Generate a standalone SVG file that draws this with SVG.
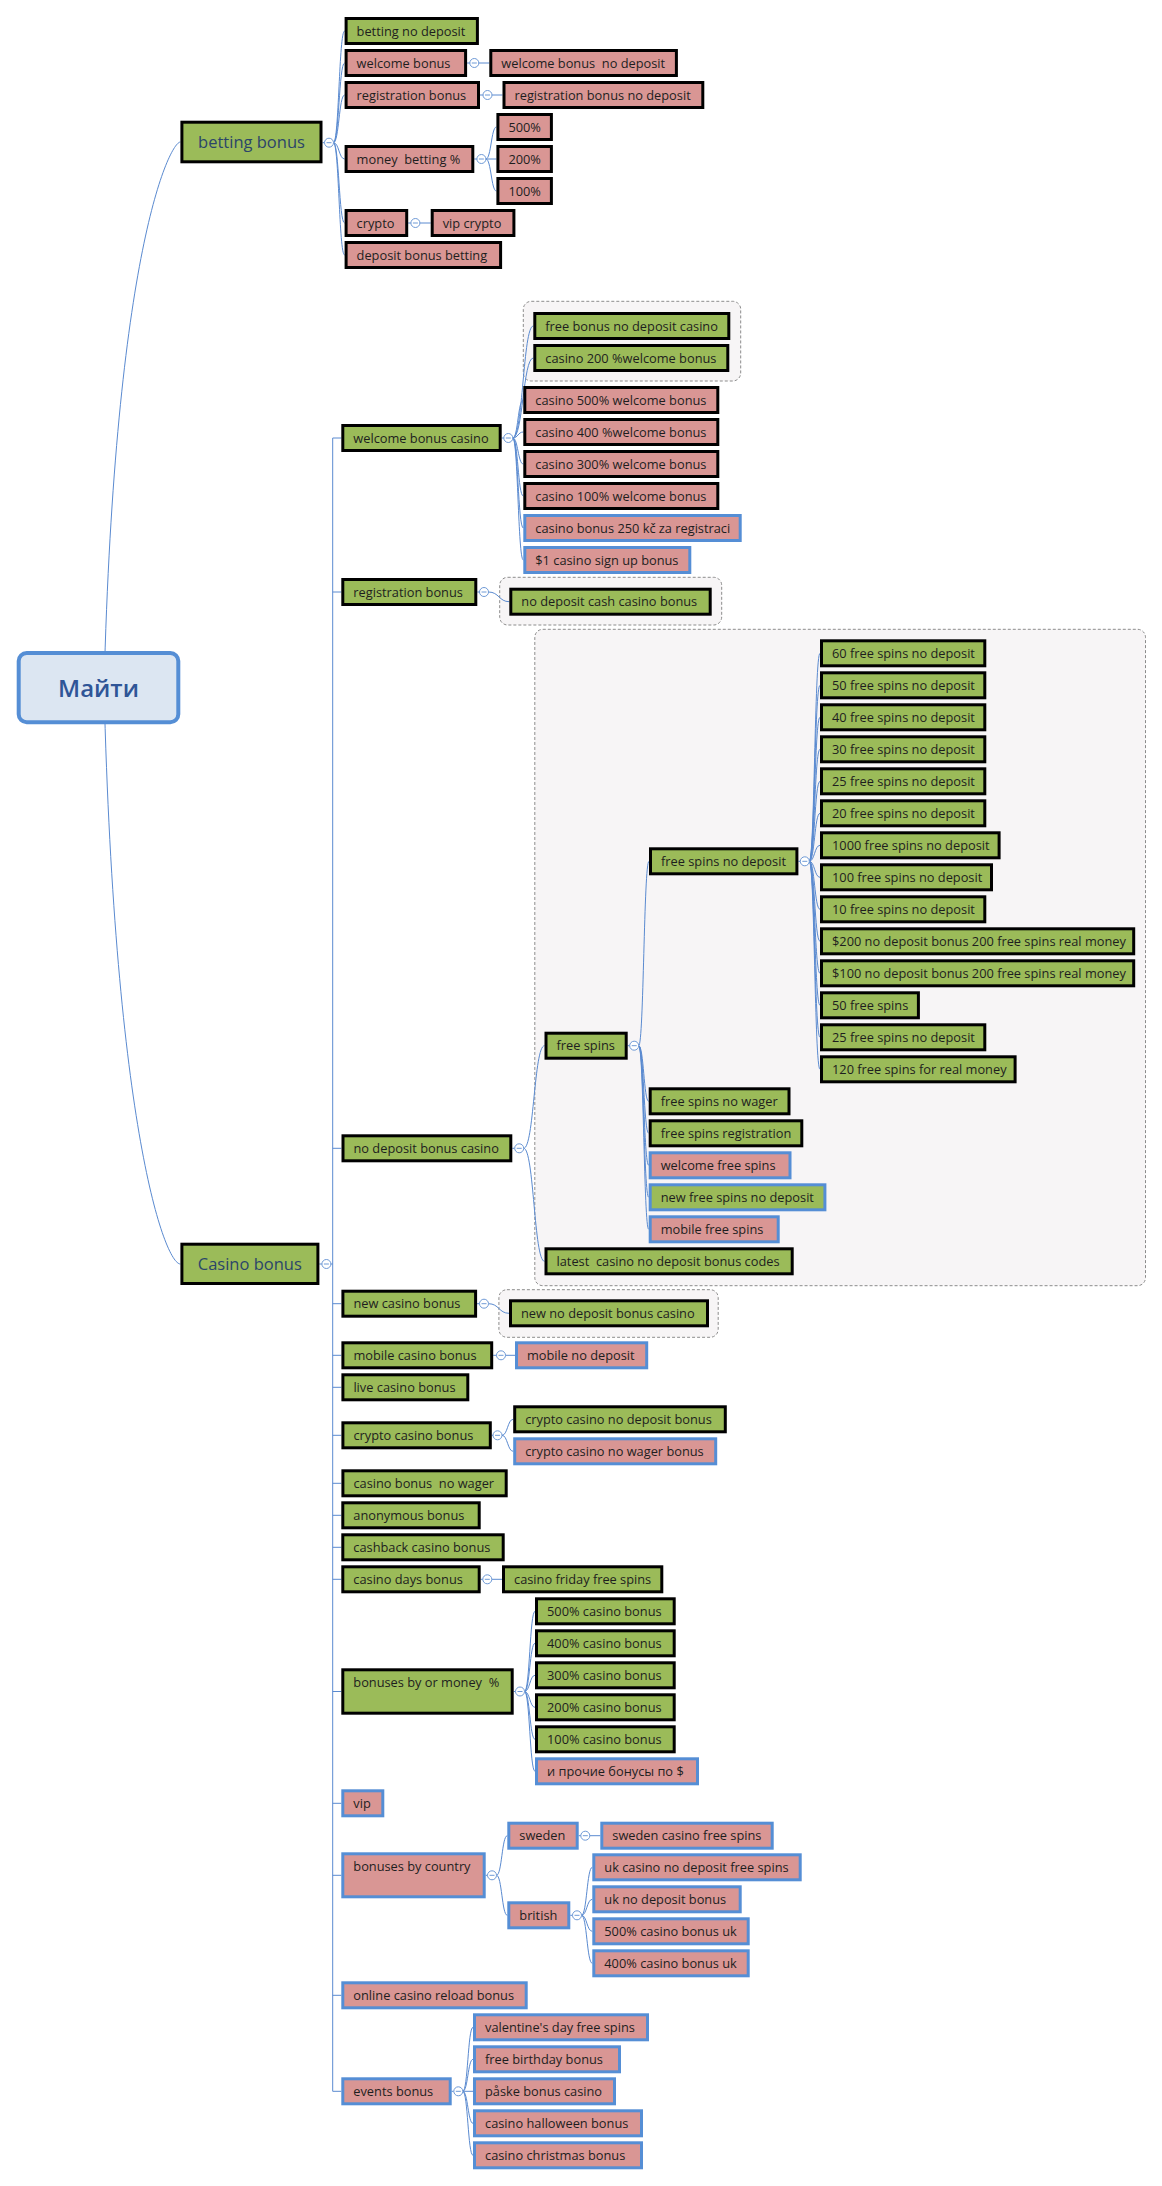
<svg xmlns="http://www.w3.org/2000/svg" width="1162" height="2186" viewBox="0 0 1162 2186">
<style>
text{font-family:"Open Sans","Noto Sans","DejaVu Sans",sans-serif;font-size:12.8px;fill:#1e1e1e;white-space:pre}
.t{font-size:16.5px;fill:#2b4569;text-anchor:middle}
.r{font-size:24px;fill:#2f5597;text-anchor:middle;font-weight:600}
.G{fill:#9bbb59}.P{fill:#d99694}
.K{stroke:#000;stroke-width:3}.B{stroke:#558ed5;stroke-width:3}
.grp{fill:#f7f5f6;stroke:#8c8c8c;stroke-width:1;stroke-dasharray:3,2}
.c path,.c line{fill:none;stroke:#5a8ad0;stroke-width:1}
.m circle{fill:#fff;stroke:#6f9ad6;stroke-width:1}
.m path{stroke:#6f9ad6;stroke-width:1}
</style>
<rect width="1162" height="2186" fill="#fff"/>
<g id="groups">
<rect class="grp" x="523.3" y="301.3" width="217.4" height="79.7" rx="8"/>
<rect class="grp" x="499.7" y="577.3" width="222" height="47.7" rx="8"/>
<rect class="grp" x="534.8" y="629.3" width="610.7" height="656.4" rx="8"/>
<rect class="grp" x="498.9" y="1289.7" width="219.3" height="47.6" rx="8"/>
</g>
<g id="connectors" class="c">
<path d="M104,688 C115,250 170,142 180.4,142"/>
<path d="M104,688 C115,1130 165,1264 180.4,1264"/>
<line x1="322.5" y1="142.7" x2="324.5" y2="142.7"/>
<path d="M333.5,142.7 C339,142.7 339,31 344.6,31"/>
<path d="M333.5,142.7 C339,142.7 339,63 344.6,63"/>
<path d="M333.5,142.7 C339,142.7 339,95 344.6,95"/>
<path d="M333.5,142.7 C339,142.7 339,159 344.6,159"/>
<path d="M333.5,142.7 C339,142.7 339,223 344.6,223"/>
<path d="M333.5,142.7 C339,142.7 339,255 344.6,255"/>
<line x1="467.1" y1="63" x2="489.3" y2="63"/>
<line x1="480" y1="95" x2="502.5" y2="95"/>
<line x1="474.3" y1="159" x2="477" y2="159"/>
<path d="M485.9,159 C491.2,159 491.2,127 496.4,127"/>
<path d="M485.9,159 L496.4,159"/>
<path d="M485.9,159 C491.2,159 491.2,191 496.4,191"/>
<line x1="408.2" y1="223" x2="430.7" y2="223"/>
<line x1="319.3" y1="1264" x2="332.7" y2="1264"/>
<path d="M341.3,438 H332.7 V2091.3 H341.3"/>
<line x1="332.7" y1="592" x2="341.3" y2="592"/>
<line x1="332.7" y1="1148.3" x2="341.3" y2="1148.3"/>
<line x1="332.7" y1="1303.7" x2="341.3" y2="1303.7"/>
<line x1="332.7" y1="1355.3" x2="341.3" y2="1355.3"/>
<line x1="332.7" y1="1387.3" x2="341.3" y2="1387.3"/>
<line x1="332.7" y1="1435.3" x2="341.3" y2="1435.3"/>
<line x1="332.7" y1="1483.3" x2="341.3" y2="1483.3"/>
<line x1="332.7" y1="1515.3" x2="341.3" y2="1515.3"/>
<line x1="332.7" y1="1547.3" x2="341.3" y2="1547.3"/>
<line x1="332.7" y1="1579.3" x2="341.3" y2="1579.3"/>
<line x1="332.7" y1="1691.5" x2="341.3" y2="1691.5"/>
<line x1="332.7" y1="1803.3" x2="341.3" y2="1803.3"/>
<line x1="332.7" y1="1875.3" x2="341.3" y2="1875.3"/>
<line x1="332.7" y1="1995.3" x2="341.3" y2="1995.3"/>
<line x1="501.7" y1="438" x2="504" y2="438"/>
<path d="M512.8,438 C523,438 523,326 533.3,326"/>
<path d="M512.8,438 C523,438 523,358 533.3,358"/>
<path d="M512.8,438 C518,438 518,400 523.3,400"/>
<path d="M512.8,438 C518,438 518,432 523.3,432"/>
<path d="M512.8,438 C518,438 518,464 523.3,464"/>
<path d="M512.8,438 C518,438 518,496 523.3,496"/>
<path d="M512.8,438 C518,438 518,528 523.3,528"/>
<path d="M512.8,438 C518,438 518,560 523.3,560"/>
<line x1="477.3" y1="592" x2="479.5" y2="592"/>
<path d="M488.5,592 C499,592 499,601.7 509.3,601.7"/>
<line x1="512.3" y1="1148.3" x2="514.7" y2="1148.3"/>
<path d="M523.7,1148.3 C534,1148.3 534,1045.7 544.5,1045.7"/>
<path d="M523.7,1148.3 C534,1148.3 534,1261.3 544.5,1261.3"/>
<line x1="627.7" y1="1045.7" x2="629.7" y2="1045.7"/>
<path d="M638.7,1045.7 C643.8,1045.7 643.8,861.3 649,861.3"/>
<path d="M638.7,1045.7 C643.8,1045.7 643.8,1101.3 648.7,1101.3"/>
<path d="M638.7,1045.7 C643.8,1045.7 643.8,1133.3 648.7,1133.3"/>
<path d="M638.7,1045.7 C643.8,1045.7 643.8,1165.3 648.7,1165.3"/>
<path d="M638.7,1045.7 C643.8,1045.7 643.8,1197.3 648.7,1197.3"/>
<path d="M638.7,1045.7 C643.8,1045.7 643.8,1229.3 648.7,1229.3"/>
<line x1="798.4" y1="861.3" x2="800.3" y2="861.3"/>
<path d="M809.3,861.3 C814.6,861.3 814.6,653.3 820,653.3"/>
<path d="M809.3,861.3 C814.6,861.3 814.6,685.3 820,685.3"/>
<path d="M809.3,861.3 C814.6,861.3 814.6,717.3 820,717.3"/>
<path d="M809.3,861.3 C814.6,861.3 814.6,749.3 820,749.3"/>
<path d="M809.3,861.3 C814.6,861.3 814.6,781.3 820,781.3"/>
<path d="M809.3,861.3 C814.6,861.3 814.6,813.3 820,813.3"/>
<path d="M809.3,861.3 C814.6,861.3 814.6,845.3 820,845.3"/>
<path d="M809.3,861.3 C814.6,861.3 814.6,877.3 820,877.3"/>
<path d="M809.3,861.3 C814.6,861.3 814.6,909.3 820,909.3"/>
<path d="M809.3,861.3 C814.6,861.3 814.6,941.3 820,941.3"/>
<path d="M809.3,861.3 C814.6,861.3 814.6,973.3 820,973.3"/>
<path d="M809.3,861.3 C814.6,861.3 814.6,1005.3 820,1005.3"/>
<path d="M809.3,861.3 C814.6,861.3 814.6,1037.3 820,1037.3"/>
<path d="M809.3,861.3 C814.6,861.3 814.6,1069.3 820,1069.3"/>
<line x1="477.1" y1="1303.7" x2="479.5" y2="1303.7"/>
<path d="M488.5,1303.7 C499,1303.7 499,1313.3 509,1313.3"/>
<line x1="493.2" y1="1355.3" x2="515" y2="1355.3"/>
<line x1="491.8" y1="1435.3" x2="493" y2="1435.3"/>
<path d="M502,1435.3 C507.6,1435.3 507.6,1419.3 513.2,1419.3"/>
<path d="M502,1435.3 C507.6,1435.3 507.6,1451.3 513.2,1451.3"/>
<line x1="480.7" y1="1579.3" x2="502" y2="1579.3"/>
<line x1="513.7" y1="1691.5" x2="515.5" y2="1691.5"/>
<path d="M524.5,1691.5 C529.8,1691.5 529.8,1611.3 535,1611.3"/>
<path d="M524.5,1691.5 C529.8,1691.5 529.8,1643.3 535,1643.3"/>
<path d="M524.5,1691.5 C529.8,1691.5 529.8,1675.3 535,1675.3"/>
<path d="M524.5,1691.5 C529.8,1691.5 529.8,1707.3 535,1707.3"/>
<path d="M524.5,1691.5 C529.8,1691.5 529.8,1739.3 535,1739.3"/>
<path d="M524.5,1691.5 C529.8,1691.5 529.8,1771.3 535,1771.3"/>
<line x1="485.7" y1="1875.3" x2="487.5" y2="1875.3"/>
<path d="M496.5,1875.3 C501.9,1875.3 501.9,1835.7 507.3,1835.7"/>
<path d="M496.5,1875.3 C501.9,1875.3 501.9,1915.3 507.3,1915.3"/>
<line x1="578.7" y1="1835.7" x2="600.3" y2="1835.7"/>
<line x1="570.3" y1="1915.3" x2="572.5" y2="1915.3"/>
<path d="M581.5,1915.3 C586.9,1915.3 586.9,1867.3 592.3,1867.3"/>
<path d="M581.5,1915.3 C586.9,1915.3 586.9,1899.3 592.3,1899.3"/>
<path d="M581.5,1915.3 C586.9,1915.3 586.9,1931.3 592.3,1931.3"/>
<path d="M581.5,1915.3 C586.9,1915.3 586.9,1963.3 592.3,1963.3"/>
<line x1="451.7" y1="2091.3" x2="453.8" y2="2091.3"/>
<path d="M462.8,2091.3 C467.9,2091.3 467.9,2027.3 473,2027.3"/>
<path d="M462.8,2091.3 C467.9,2091.3 467.9,2059.3 473,2059.3"/>
<path d="M462.8,2091.3 L473,2091.3"/>
<path d="M462.8,2091.3 C467.9,2091.3 467.9,2123.3 473,2123.3"/>
<path d="M462.8,2091.3 C467.9,2091.3 467.9,2155.3 473,2155.3"/>
</g>
<g id="collapse" class="m">
<circle cx="329" cy="142.7" r="4.5"/><path d="M326.5,142.7h5"/>
<circle cx="474.3" cy="63" r="4.5"/><path d="M471.8,63h5"/>
<circle cx="487.5" cy="95" r="4.5"/><path d="M485,95h5"/>
<circle cx="481.4" cy="159" r="4.5"/><path d="M478.9,159h5"/>
<circle cx="415.4" cy="223" r="4.5"/><path d="M412.9,223h5"/>
<circle cx="326.4" cy="1264" r="4.5"/><path d="M323.9,1264h5"/>
<circle cx="508.3" cy="438" r="4.5"/><path d="M505.8,438h5"/>
<circle cx="484" cy="592" r="4.5"/><path d="M481.5,592h5"/>
<circle cx="519.2" cy="1148.3" r="4.5"/><path d="M516.7,1148.3h5"/>
<circle cx="634.2" cy="1045.7" r="4.5"/><path d="M631.7,1045.7h5"/>
<circle cx="804.8" cy="861.3" r="4.5"/><path d="M802.3,861.3h5"/>
<circle cx="484" cy="1303.7" r="4.5"/><path d="M481.5,1303.7h5"/>
<circle cx="501" cy="1355.3" r="4.5"/><path d="M498.5,1355.3h5"/>
<circle cx="497.5" cy="1435.3" r="4.5"/><path d="M495,1435.3h5"/>
<circle cx="487.3" cy="1579.3" r="4.5"/><path d="M484.8,1579.3h5"/>
<circle cx="520" cy="1691.5" r="4.5"/><path d="M517.5,1691.5h5"/>
<circle cx="492" cy="1875.3" r="4.5"/><path d="M489.5,1875.3h5"/>
<circle cx="585.3" cy="1835.7" r="4.5"/><path d="M582.8,1835.7h5"/>
<circle cx="577" cy="1915.3" r="4.5"/><path d="M574.5,1915.3h5"/>
<circle cx="458.3" cy="2091.3" r="4.5"/><path d="M455.8,2091.3h5"/>
</g>
<g id="root"><rect x="18.7" y="653" width="159.6" height="69.3" rx="8" fill="#dce6f2" stroke="#558ed5" stroke-width="4"/><text class="r" x="98.5" y="697">Майти</text></g>
<g id="betting-bonus"><rect class="G K" x="181.9" y="122.2" width="139.1" height="39.6"/><text class="t" x="251.5" y="148">betting bonus</text></g>
<g id="betting-no-deposit"><rect class="G K" x="346.1" y="18.5" width="131.3" height="25"/><text x="356.6" y="35.5">betting no deposit</text></g>
<g id="welcome-bonus"><rect class="P K" x="346.1" y="50.5" width="119.5" height="25"/><text x="356.6" y="67.5">welcome bonus</text></g>
<g id="welcome-bonus-no-deposit"><rect class="P K" x="490.8" y="50.5" width="185.6" height="25"/><text x="501.3" y="67.5">welcome bonus  no deposit</text></g>
<g id="registration-bonus-b"><rect class="P K" x="346.1" y="82.5" width="132.4" height="25"/><text x="356.6" y="99.5">registration bonus</text></g>
<g id="registration-bonus-no-deposit"><rect class="P K" x="504" y="82.5" width="198.8" height="25"/><text x="514.5" y="99.5">registration bonus no deposit</text></g>
<g id="pct-500"><rect class="P K" x="497.9" y="114.5" width="53.5" height="25"/><text x="508.4" y="131.5">500%</text></g>
<g id="money-betting"><rect class="P K" x="346.1" y="146.5" width="126.7" height="25"/><text x="356.6" y="163.5">money  betting %</text></g>
<g id="pct-200"><rect class="P K" x="497.9" y="146.5" width="53.5" height="25"/><text x="508.4" y="163.5">200%</text></g>
<g id="pct-100"><rect class="P K" x="497.9" y="178.5" width="53.5" height="25"/><text x="508.4" y="195.5">100%</text></g>
<g id="crypto"><rect class="P K" x="346.1" y="210.5" width="60.6" height="25"/><text x="356.6" y="227.5">crypto</text></g>
<g id="vip-crypto"><rect class="P K" x="432.2" y="210.5" width="81.7" height="25"/><text x="442.7" y="227.5">vip crypto</text></g>
<g id="deposit-bonus-betting"><rect class="P K" x="346.1" y="242.5" width="154.5" height="25"/><text x="356.6" y="259.5">deposit bonus betting</text></g>
<g id="casino-bonus"><rect class="G K" x="181.9" y="1244.2" width="136" height="39.3"/><text class="t" x="249.8" y="1270">Casino bonus</text></g>
<g id="welcome-bonus-casino"><rect class="G K" x="342.8" y="425.5" width="157.4" height="25"/><text x="353.3" y="442.5">welcome bonus casino</text></g>
<g id="free-bonus-no-deposit-casino"><rect class="G K" x="534.8" y="313.5" width="194" height="25"/><text x="545.3" y="330.5">free bonus no deposit casino</text></g>
<g id="casino-200-welcome"><rect class="G K" x="534.8" y="345.5" width="193" height="25"/><text x="545.3" y="362.5">casino 200 %welcome bonus</text></g>
<g id="casino-500-welcome"><rect class="P K" x="524.8" y="387.5" width="193" height="25"/><text x="535.3" y="404.5">casino 500% welcome bonus</text></g>
<g id="casino-400-welcome"><rect class="P K" x="524.8" y="419.5" width="193" height="25"/><text x="535.3" y="436.5">casino 400 %welcome bonus</text></g>
<g id="casino-300-welcome"><rect class="P K" x="524.8" y="451.5" width="193" height="25"/><text x="535.3" y="468.5">casino 300% welcome bonus</text></g>
<g id="casino-100-welcome"><rect class="P K" x="524.8" y="483.5" width="193" height="25"/><text x="535.3" y="500.5">casino 100% welcome bonus</text></g>
<g id="casino-bonus-250"><rect class="P B" x="524.8" y="515.5" width="215.4" height="25"/><text x="535.3" y="532.5">casino bonus 250 kč za registraci</text></g>
<g id="casino-sign-up"><rect class="P B" x="524.8" y="547.5" width="165" height="25"/><text x="535.3" y="564.5">$1 casino sign up bonus</text></g>
<g id="registration-bonus-c"><rect class="G K" x="342.8" y="579.5" width="133" height="25"/><text x="353.3" y="596.5">registration bonus</text></g>
<g id="no-deposit-cash"><rect class="G K" x="510.8" y="589.2" width="199.4" height="25"/><text x="521.3" y="606.2">no deposit cash casino bonus</text></g>
<g id="no-deposit-bonus-casino"><rect class="G K" x="343" y="1135.8" width="167.8" height="25"/><text x="353.5" y="1152.8">no deposit bonus casino</text></g>
<g id="free-spins"><rect class="G K" x="546" y="1033.2" width="80.2" height="25"/><text x="556.5" y="1050.2">free spins</text></g>
<g id="free-spins-no-deposit"><rect class="G K" x="650.5" y="848.8" width="146.4" height="25"/><text x="661" y="865.8">free spins no deposit</text></g>
<g id="fs-60"><rect class="G K" x="821.5" y="640.8" width="163.3" height="25"/><text x="832" y="657.8">60 free spins no deposit</text></g>
<g id="fs-50"><rect class="G K" x="821.5" y="672.8" width="163.3" height="25"/><text x="832" y="689.8">50 free spins no deposit</text></g>
<g id="fs-40"><rect class="G K" x="821.5" y="704.8" width="163.3" height="25"/><text x="832" y="721.8">40 free spins no deposit</text></g>
<g id="fs-30"><rect class="G K" x="821.5" y="736.8" width="163.3" height="25"/><text x="832" y="753.8">30 free spins no deposit</text></g>
<g id="fs-25a"><rect class="G K" x="821.5" y="768.8" width="163.3" height="25"/><text x="832" y="785.8">25 free spins no deposit</text></g>
<g id="fs-20"><rect class="G K" x="821.5" y="800.8" width="163.3" height="25"/><text x="832" y="817.8">20 free spins no deposit</text></g>
<g id="fs-1000"><rect class="G K" x="821.5" y="832.8" width="177.6" height="25"/><text x="832" y="849.8">1000 free spins no deposit</text></g>
<g id="fs-100"><rect class="G K" x="821.5" y="864.8" width="170" height="25"/><text x="832" y="881.8">100 free spins no deposit</text></g>
<g id="fs-10"><rect class="G K" x="821.5" y="896.8" width="163.3" height="25"/><text x="832" y="913.8">10 free spins no deposit</text></g>
<g id="fs-200usd"><rect class="G K" x="821.5" y="928.8" width="312.2" height="25"/><text x="832" y="945.8">$200 no deposit bonus 200 free spins real money</text></g>
<g id="fs-100usd"><rect class="G K" x="821.5" y="960.8" width="312.2" height="25"/><text x="832" y="977.8">$100 no deposit bonus 200 free spins real money</text></g>
<g id="fs-50b"><rect class="G K" x="821.5" y="992.8" width="96.9" height="25"/><text x="832" y="1009.8">50 free spins</text></g>
<g id="fs-25b"><rect class="G K" x="821.5" y="1024.8" width="163.3" height="25"/><text x="832" y="1041.8">25 free spins no deposit</text></g>
<g id="fs-120"><rect class="G K" x="821.5" y="1056.8" width="193.6" height="25"/><text x="832" y="1073.8">120 free spins for real money</text></g>
<g id="free-spins-no-wager"><rect class="G K" x="650.2" y="1088.8" width="138.8" height="25"/><text x="660.7" y="1105.8">free spins no wager</text></g>
<g id="free-spins-registration"><rect class="G K" x="650.2" y="1120.8" width="151.6" height="25"/><text x="660.7" y="1137.8">free spins registration</text></g>
<g id="welcome-free-spins"><rect class="P B" x="650.2" y="1152.8" width="139.8" height="25"/><text x="660.7" y="1169.8">welcome free spins</text></g>
<g id="new-free-spins-no-deposit"><rect class="G B" x="650.2" y="1184.8" width="174.7" height="25"/><text x="660.7" y="1201.8">new free spins no deposit</text></g>
<g id="mobile-free-spins"><rect class="P B" x="650.2" y="1216.8" width="128" height="25"/><text x="660.7" y="1233.8">mobile free spins</text></g>
<g id="latest-codes"><rect class="G K" x="546" y="1248.8" width="246.2" height="25"/><text x="556.5" y="1265.8">latest  casino no deposit bonus codes</text></g>
<g id="new-casino-bonus"><rect class="G K" x="342.9" y="1291.2" width="132.7" height="25"/><text x="353.4" y="1308.2">new casino bonus</text></g>
<g id="new-no-deposit-bonus-casino"><rect class="G K" x="510.5" y="1300.8" width="197" height="25"/><text x="521" y="1317.8">new no deposit bonus casino</text></g>
<g id="mobile-casino-bonus"><rect class="G K" x="342.9" y="1342.8" width="148.8" height="25"/><text x="353.4" y="1359.8">mobile casino bonus</text></g>
<g id="mobile-no-deposit"><rect class="P B" x="516.5" y="1342.8" width="130.2" height="25"/><text x="527" y="1359.8">mobile no deposit</text></g>
<g id="live-casino-bonus"><rect class="G K" x="342.9" y="1374.8" width="124.9" height="25"/><text x="353.4" y="1391.8">live casino bonus</text></g>
<g id="crypto-casino-bonus"><rect class="G K" x="342.9" y="1422.8" width="147.4" height="25"/><text x="353.4" y="1439.8">crypto casino bonus</text></g>
<g id="crypto-no-deposit"><rect class="G K" x="514.7" y="1406.8" width="210.6" height="25"/><text x="525.2" y="1423.8">crypto casino no deposit bonus</text></g>
<g id="crypto-no-wager"><rect class="P B" x="514.7" y="1438.8" width="201" height="25"/><text x="525.2" y="1455.8">crypto casino no wager bonus</text></g>
<g id="casino-bonus-no-wager"><rect class="G K" x="342.9" y="1470.8" width="163.3" height="25"/><text x="353.4" y="1487.8">casino bonus  no wager</text></g>
<g id="anonymous-bonus"><rect class="G K" x="342.8" y="1502.8" width="136.4" height="25"/><text x="353.3" y="1519.8">anonymous bonus</text></g>
<g id="cashback-casino-bonus"><rect class="G K" x="342.8" y="1534.8" width="160.4" height="25"/><text x="353.3" y="1551.8">cashback casino bonus</text></g>
<g id="casino-days-bonus"><rect class="G K" x="342.8" y="1566.8" width="136.4" height="25"/><text x="353.3" y="1583.8">casino days bonus</text></g>
<g id="casino-friday-free-spins"><rect class="G K" x="503.5" y="1566.8" width="158.3" height="25"/><text x="514" y="1583.8">casino friday free spins</text></g>
<g id="bonuses-by-money"><rect class="G K" x="342.8" y="1669.8" width="169.4" height="43.4"/><text x="353.3" y="1687.2">bonuses by or money  %</text></g>
<g id="cb-500"><rect class="G K" x="536.5" y="1598.8" width="137.7" height="25"/><text x="547" y="1615.8">500% casino bonus</text></g>
<g id="cb-400"><rect class="G K" x="536.5" y="1630.8" width="137.7" height="25"/><text x="547" y="1647.8">400% casino bonus</text></g>
<g id="cb-300"><rect class="G K" x="536.5" y="1662.8" width="137.7" height="25"/><text x="547" y="1679.8">300% casino bonus</text></g>
<g id="cb-200"><rect class="G K" x="536.5" y="1694.8" width="137.7" height="25"/><text x="547" y="1711.8">200% casino bonus</text></g>
<g id="cb-100"><rect class="G K" x="536.5" y="1726.8" width="137.7" height="25"/><text x="547" y="1743.8">100% casino bonus</text></g>
<g id="other-bonuses"><rect class="P B" x="536.5" y="1758.8" width="161" height="25"/><text x="547" y="1775.8">и прочие бонусы по $</text></g>
<g id="vip"><rect class="P B" x="342.8" y="1790.8" width="40" height="25"/><text x="353.3" y="1807.8">vip</text></g>
<g id="bonuses-by-country"><rect class="P B" x="342.8" y="1853.8" width="141.4" height="43"/><text x="353.3" y="1871.2">bonuses by country</text></g>
<g id="sweden"><rect class="P B" x="508.8" y="1823.2" width="68.4" height="25"/><text x="519.3" y="1840.2">sweden</text></g>
<g id="sweden-casino-free-spins"><rect class="P B" x="601.8" y="1823.2" width="170.4" height="25"/><text x="612.3" y="1840.2">sweden casino free spins</text></g>
<g id="british"><rect class="P B" x="508.8" y="1902.8" width="60" height="25"/><text x="519.3" y="1919.8">british</text></g>
<g id="uk-casino-no-deposit-free-spins"><rect class="P B" x="593.8" y="1854.8" width="206.4" height="25"/><text x="604.3" y="1871.8">uk casino no deposit free spins</text></g>
<g id="uk-no-deposit-bonus"><rect class="P B" x="593.8" y="1886.8" width="146.4" height="25"/><text x="604.3" y="1903.8">uk no deposit bonus</text></g>
<g id="uk-500"><rect class="P B" x="593.8" y="1918.8" width="154.4" height="25"/><text x="604.3" y="1935.8">500% casino bonus uk</text></g>
<g id="uk-400"><rect class="P B" x="593.8" y="1950.8" width="154.4" height="25"/><text x="604.3" y="1967.8">400% casino bonus uk</text></g>
<g id="online-casino-reload-bonus"><rect class="P B" x="342.8" y="1982.8" width="183.4" height="25"/><text x="353.3" y="1999.8">online casino reload bonus</text></g>
<g id="events-bonus"><rect class="P B" x="342.8" y="2078.8" width="107.4" height="25"/><text x="353.3" y="2095.8">events bonus</text></g>
<g id="valentines"><rect class="P B" x="474.5" y="2014.8" width="173" height="25"/><text x="485" y="2031.8">valentine's day free spins</text></g>
<g id="free-birthday-bonus"><rect class="P B" x="474.5" y="2046.8" width="145" height="25"/><text x="485" y="2063.8">free birthday bonus</text></g>
<g id="paske-bonus-casino"><rect class="P B" x="474.5" y="2078.8" width="140" height="25"/><text x="485" y="2095.8">påske bonus casino</text></g>
<g id="casino-halloween-bonus"><rect class="P B" x="474.5" y="2110.8" width="167" height="25"/><text x="485" y="2127.8">casino halloween bonus</text></g>
<g id="casino-christmas-bonus"><rect class="P B" x="474.5" y="2142.8" width="167" height="25"/><text x="485" y="2159.8">casino christmas bonus</text></g>
</svg>
